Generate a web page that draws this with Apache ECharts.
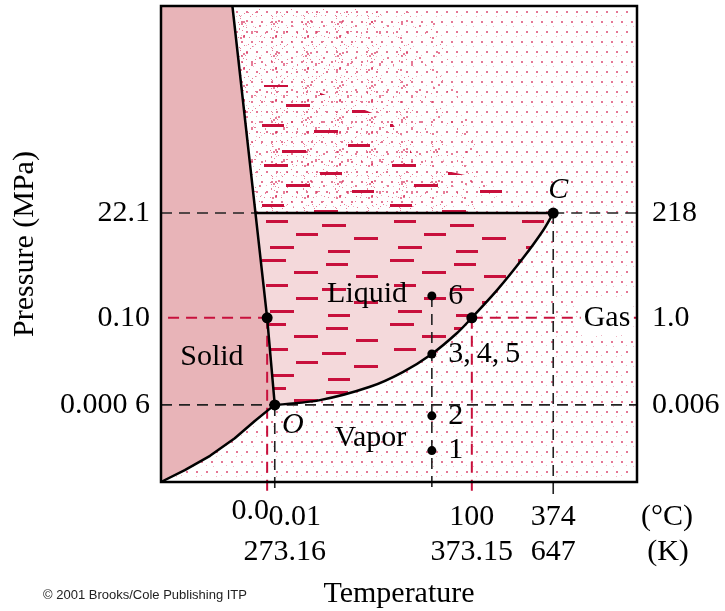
<!DOCTYPE html>
<html><head><meta charset="utf-8">
<script src="https://cdn.jsdelivr.net/npm/echarts@6/dist/echarts.min.js"></script>
<style>html,body{margin:0;padding:0;background:#fff;}#c{width:725px;height:611px;}</style>
</head><body><div id="c"></div>
<script>
// ---------- DATA (schematic diagram units: 0..100 on both axes) ----------
const sublimationCurve = [[0,0],[5.0,2.5],[10.3,5.5],[15.5,9.2],[19.7,12.8],[22.5,15.1],[23.9,16.2]];
const fusionCurve = [[23.9,16.2],[22.3,34.5],[15.0,100]];
const vaporizationCurve = [[23.9,16.2],[33.4,17.2],[43.9,20.0],[50.8,23.1],[56.9,26.9],[62.2,31.3],[65.3,34.5],[70.6,40.3],[76.1,47.1],[80.3,52.9],[82.4,56.5]];
const pressureTicks = [16.2, 34.5, 56.5];
const pressureMPaLabels = ['0.000 6', '0.10', '22.1'];
const pressureAtmLabels = ['0.006', '1.0', '218'];
const celsiusTicks = [22.3, 23.9, 65.3, 82.4];
const celsiusLabels = ['0.0', '0.01', '100', '374'];
const kelvinTicks = [23.9, 65.3, 82.4];
const kelvinLabels = ['273.16', '373.15', '647'];
const specialPoints = [
  {name:'melt', value:[22.3,34.5]},
  {name:'O', value:[23.9,16.2]},
  {name:'boil', value:[65.3,34.5]},
  {name:'C', value:[82.4,56.5]}
];
const statePoints = [
  {name:'6', value:[56.9,39.1]},
  {name:'3,\u20094,\u20095', value:[56.9,26.9]},
  {name:'2', value:[56.9,13.9]},
  {name:'1', value:[56.9,6.6]}
];
const regionNames = ['Solid', 'Liquid', 'Vapor', 'Gas'];

// ---------- STYLE ----------
const SERIF = '"Liberation Serif","Times New Roman",serif';
const RED = '#c8103c';
const TXT = '#000';
const FS = 30;

function xOnCurve(curve, y){
  for (let i=0;i<curve.length-1;i++){
    const [x1,y1]=curve[i],[x2,y2]=curve[i+1];
    if ((y-y1)*(y-y2)<=0){ const t=(y-y1)/(y2-y1); return x1+t*(x2-x1); }
  }
  return curve[curve.length-1][0];
}
const triple = specialPoints[1].value, melt = specialPoints[0].value,
      boil = specialPoints[2].value, crit = specialPoints[3].value;
const fusionAtCrit = [xOnCurve(fusionCurve, crit[1]), crit[1]];

function tile(w,h,draw){const c=document.createElement('canvas');c.width=w;c.height=h;draw(c.getContext('2d'));return c;}
const sparseDots = tile(20,20,ctx=>{
  ctx.fillStyle='rgba(215,45,90,0.65)';
  [[1,1],[11,1],[6,11],[16,11]].forEach(([x,y])=>ctx.fillRect(x,y,2,2));
  ctx.fillStyle='rgba(215,45,90,0.35)';
  [[6,5],[16,16],[1,15],[13,6]].forEach(([x,y])=>ctx.fillRect(x,y,1,1));
});
function fineDots(seed, n){
  return tile(32,32,ctx=>{
    let s=seed;
    const r=()=>{s^=s<<13;s^=s>>>17;s^=s<<5;return (s>>>0)/4294967296;};
    ctx.fillStyle='rgba(215,40,85,0.6)';
    for(let i=0;i<n;i++){const x=Math.floor(r()*32),y=Math.floor(r()*32);const big=r()<0.3;ctx.fillRect(x,y,big?2:1,big?2:1);}
  });
}
const dashLayout=[[6,3,24],[70,7,22],[38,15,24],[100,19,22],[10,28,22],[66,32,24],[40,41,22],[98,45,24],[14,54,24],[72,58,22]];
const dashTile = tile(128,64,ctx=>{ctx.fillStyle=RED;dashLayout.forEach(([x,y,l])=>ctx.fillRect(x,y,l,3));});
const sparseDashTile = tile(128,80,ctx=>{ctx.fillStyle=RED;[[8,4,24],[64,12,22],[30,24,24],[96,30,22],[6,44,22],[58,50,24],[92,64,22],[26,70,24]].forEach(([x,y,l])=>ctx.fillRect(x,y,l,3));});
const pat = c => ({image:c, repeat:'repeat'});

function poly(points, style, z){
  return {type:'custom', coordinateSystem:'cartesian2d', z, silent:true, data:[[0,0]],
    renderItem:(p,api)=>({type:'polygon', shape:{points:points.map(q=>api.coord(q))}, style})};
}
function line(points, color, width, dashed, z, smooth){
  return {type:'line', data:points, symbol:'none', silent:true, clip:false, z, smooth: smooth||false,
    lineStyle:{color, width, type: dashed?[11,7]:'solid', cap:'butt'}};
}

// ---------- REGIONS ----------
const fullRect = [[0,0],[100,0],[100,100],[0,100]];
const solidPoly = [[0,100],...sublimationCurve,...fusionCurve.slice(1)];
const liquidPoly = [fusionAtCrit, melt, ...vaporizationCurve];
const topY = 100, pc = crit[1];
const stipple = (xt,xb)=>[[xOnCurve(fusionCurve,topY),topY],[xt,topY],[xb,pc],fusionAtCrit];
const upperDash = [[xOnCurve(fusionCurve,83.4),83.4],[29.2,83.4],[48.1,76.1],[54.4,66.6],[73.3,62.4],[75.4,57.2],[75.4,pc],fusionAtCrit];

const fmt = (ticks, labels) => v => { const i=ticks.findIndex(t=>Math.abs(t-v)<1e-6); return i<0?'':labels[i]; };
const txt = {fontSize:FS, fontFamily:SERIF, color:TXT};
const hiddenAxis = {type:'value', min:0, max:100, position:'bottom', axisLine:{show:false}, axisTick:{show:false}, splitLine:{show:false}};

const option = {
  animation:false,
  backgroundColor:'#fff',
  grid:{left:161, top:6, width:476, height:476, containLabel:false, outerBoundsMode:'none'},
  xAxis:[
    {...hiddenAxis, offset:35,
     axisLabel:{customValues:celsiusTicks.slice(1), margin:0, verticalAlign:'middle', hideOverlap:false, ...txt,
       formatter: v => { const s=fmt(celsiusTicks,celsiusLabels)(v); return s==='0.01' ? '{rt|'+s+'}' : s; },
       rich:{rt:{...txt, padding:[0,0,0,40]}}}},
    {...hiddenAxis, offset:35,
     axisLabel:{customValues:[celsiusTicks[0], 100], margin:0, verticalAlign:'middle', hideOverlap:false, ...txt,
       formatter: v => v===100 ? '{u|(°C)}' : '{up|'+fmt(celsiusTicks,celsiusLabels)(v)+'}',
       rich:{up:{...txt, padding:[0,34,12,0]}, u:{...txt, padding:[0,0,0,60]}}}},
    {...hiddenAxis, offset:70,
     axisLabel:{customValues:kelvinTicks.concat([100]), margin:0, verticalAlign:'middle', hideOverlap:false, ...txt,
       formatter: v => { if (v===100) return '{u|(K)}'; const s=fmt(kelvinTicks,kelvinLabels)(v); return s==='273.16' ? '{rt|'+s+'}' : s; },
       rich:{rt:{...txt, padding:[0,0,0,20]}, u:{...txt, padding:[0,0,0,62]}}}},
    {...hiddenAxis, offset:0, axisLabel:{show:false},
     name:'Temperature', nameLocation:'middle', nameGap:97, nameTextStyle:{...txt}}
  ],
  yAxis:[
    {type:'value', min:0, max:100, position:'left',
     axisLine:{show:false}, axisTick:{show:false}, splitLine:{show:false},
     axisLabel:{customValues:pressureTicks, margin:11, ...txt, formatter:fmt(pressureTicks,pressureMPaLabels)},
     name:'Pressure (MPa)', nameLocation:'middle', nameRotate:90, nameGap:121, nameTextStyle:{...txt}},
    {type:'value', min:0, max:100, position:'right',
     axisLine:{show:false}, axisTick:{show:false}, splitLine:{show:false},
     axisLabel:{customValues:pressureTicks, margin:15, ...txt, formatter:fmt(pressureTicks,pressureAtmLabels)}}
  ],
  graphic:[{type:'text', left:43, top:589, style:{text:'© 2001 Brooks/Cole Publishing ITP', font:'13px "Liberation Sans", Arial, sans-serif', fill:'#222'}}],
  series:[
    poly(fullRect, {fill:'#fff'}, 1),
    poly(fullRect, {fill:pat(sparseDots)}, 1),
    poly(stipple(56.5,71.2), {fill:pat(fineDots(12345,12))}, 2),
    poly(stipple(49.2,62.8), {fill:pat(fineDots(987654,12))}, 2),
    poly(stipple(41.8,54.4), {fill:pat(fineDots(55555,12))}, 2),
    poly(solidPoly, {fill:'#e8b4b8'}, 3),
    poly(liquidPoly, {fill:'#f4d9db'}, 3),
    poly(liquidPoly, {fill:pat(dashTile)}, 4),
    poly(upperDash, {fill:pat(sparseDashTile)}, 4),
    // dashed reference lines
    line([[0,pc],fusionAtCrit], '#222', 1.6, true, 5),
    line([crit,[100,pc]], '#222', 1.6, true, 5),
    line([[0,triple[1]],[100,triple[1]]], '#222', 1.6, true, 5),
    line([[-2.3,melt[1]],melt], RED, 2, true, 5),
    line([boil,[101.8,boil[1]]], RED, 2, true, 5),
    line([melt,[melt[0],-2.1]], RED, 2, true, 5),
    line([triple,[triple[0],-1.7]], '#222', 1.6, true, 5),
    line([statePoints[0].value,[statePoints[0].value[0],-1.5]], '#222', 1.6, true, 5),
    line([boil,[boil[0],-2.5]], RED, 2, true, 5),
    line([crit,[crit[0],-2.5]], '#222', 1.6, true, 5),
    // phase boundaries
    line(sublimationCurve, '#000', 2.5, false, 6),
    line(fusionCurve, '#000', 2.5, false, 6),
    line(vaporizationCurve, '#000', 2.5, false, 6, 0.3),
    line([fusionAtCrit, crit], '#000', 2.5, false, 6),
    {type:'custom', coordinateSystem:'cartesian2d', z:7, silent:true, data:[[0,0]],
     renderItem:(p,api)=>{const a=api.coord([0,100]), b=api.coord([100,0]);
       return {type:'rect', shape:{x:a[0],y:a[1],width:b[0]-a[0],height:b[1]-a[1]}, style:{fill:null, stroke:'#000', lineWidth:2.5}};}},
    {type:'scatter', z:8, silent:true, symbolSize:11, itemStyle:{color:'#000', opacity:1},
     data: specialPoints.map(p=>({...p, label:{show:p.name==='O'||p.name==='C', formatter:p.name,
       position:'inside', offset: p.name==='O'?[18,20]:[5,-23], ...txt, fontStyle:'italic', opacity:1}}))},
    {type:'scatter', z:8, silent:true, symbolSize:9, itemStyle:{color:'#000', opacity:1},
     label:{show:true, position:'right', distance:12, formatter:p=>p.name, ...txt, opacity:1},
     data: statePoints},
    {type:'scatter', z:9, silent:true, symbolSize:0, itemStyle:{opacity:1},
     label:{show:true, position:'inside', formatter:p=>p.name, ...txt, opacity:1},
     data:[
       {name:regionNames[0], value:[10.7,26.3]},
       {name:regionNames[1], value:[43.3,39.5]},
       {name:regionNames[2], value:[44.0,9.2]},
       {name:regionNames[3], value:[93.7,34.5], label:{backgroundColor:'#fff', padding:[2,3]}}
     ]}
  ]
};
const chart = echarts.init(document.getElementById('c'), null, {renderer:'canvas', width:725, height:611});
chart.setOption(option);
</script></body></html>
